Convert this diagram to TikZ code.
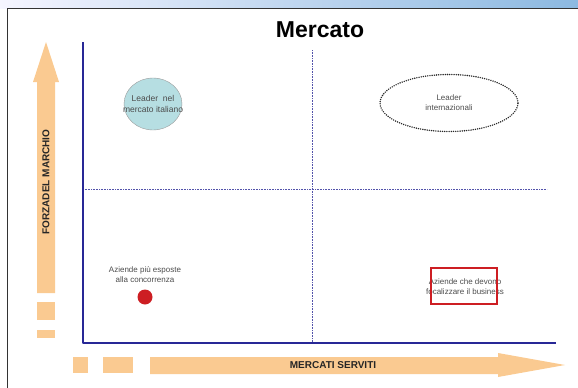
\documentclass[tikz,border=0pt]{standalone}
\usepackage{fontspec}
\setmainfont{Liberation Sans}
\usetikzlibrary{shapes.geometric,positioning}

\definecolor{arancio}{RGB}{250,202,145}
\definecolor{bluasse}{RGB}{40,40,150}
\definecolor{celeste}{RGB}{182,222,226}
\definecolor{rosso}{RGB}{205,30,35}
\definecolor{fascia}{RGB}{140,185,225}

\begin{document}
\begin{tikzpicture}[x=1pt, y=-1pt, >=stealth,
  etichetta/.style={font=\fontsize{8}{10}\selectfont, text=black!70, align=center, inner sep=1pt},
  titolo/.style={font=\bfseries\fontsize{10}{12}\selectfont, text=black!85, inner sep=0pt},
  asse/.style={draw=bluasse, line width=1.6pt},
  griglia/.style={draw=bluasse!80, densely dotted, line width=0.6pt}]
\useasboundingbox (0,0) rectangle (578,388);
\shade[left color=blue!4, right color=fascia] (0,0) rectangle (578,8);
\draw[black!80, line width=1pt] (7,388) -- (7,8.5) -- (578,8.5);

\node[font=\bfseries\fontsize{23}{26}\selectfont, anchor=base] (mercato) at (320,37) {Mercato};

% frecce arancio
\fill[arancio] (37,293) -- (37,82) -- (33,82) -- (46,42) -- (59,82) -- (55,82) -- (55,293) -- cycle;
\fill[arancio] (37,302) rectangle (55,320);
\fill[arancio] (37,330) rectangle (55,338);
\fill[arancio] (150,357) -- (498,357) -- (498,353) -- (565,365) -- (498,377) -- (498,374) -- (150,374) -- cycle;
\fill[arancio] (73,357) rectangle (88,373);
\fill[arancio] (103,357) rectangle (133,373);
\node[titolo, rotate=90] (forza) at (46,182) {FORZADEL MARCHIO};
\node[titolo] (serviti) at (333,365) {MERCATI SERVITI};

% assi
\coordinate (O) at (83,343);
\coordinate (Ytop) at (83,42);
\coordinate (Xend) at (556,343);
\coordinate (Vtop) at (312,50);
\coordinate (Vbot) at (312,343);
\coordinate (Hsx) at (83,189);
\coordinate (Hdx) at (547,189);
\draw[griglia] (Vtop) -- (Vbot);
\draw[griglia] (Hsx) -- (Hdx);
\draw[asse, line join=round] (Ytop) -- (O) -- (Xend);

% quadranti
\node[ellipse, draw=gray!80, fill=celeste, minimum width=58pt, minimum height=52pt, inner sep=0pt] (cerchio) at (153,104) {};
\node[etichetta, font=\fontsize{8.5}{11}\selectfont] (italia) at (cerchio) {Leader\ \ nel\\mercato italiano};
\node[ellipse, draw=black!85, dash pattern=on 0pt off 2.2pt, line width=1.6pt, line cap=round,
  minimum width=138pt, minimum height=57pt, etichetta] (internaz) at (449,103) {Leader\\internazionali};
\node[circle, fill=rosso, minimum size=15pt, inner sep=0pt] (punto) at (145,297) {};
\node[etichetta, above=6pt of punto] (esposte) {Aziende più esposte\\alla concorrenza};
\node[etichetta] (focus) at (465,287) {Aziende che devono\\focalizzare il business};
\node[draw=rosso, line width=1.5pt, minimum width=66pt, minimum height=36pt, inner sep=0pt] (riquadro) at (464,286) {};
\end{tikzpicture}
\end{document}
